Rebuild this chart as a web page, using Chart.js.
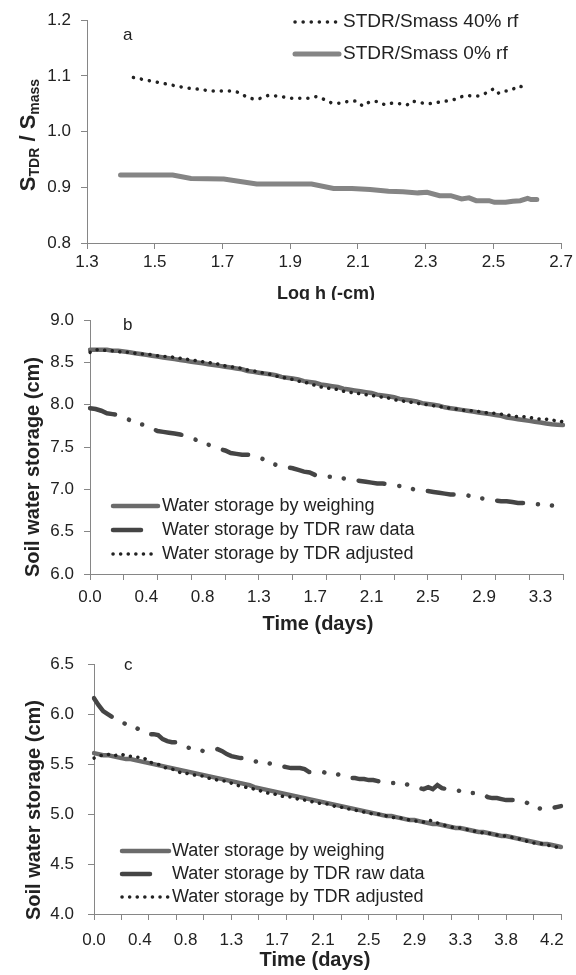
<!DOCTYPE html>
<html>
<head>
<meta charset="utf-8">
<script src="https://cdn.jsdelivr.net/npm/chart.js@4.4.1/dist/chart.umd.min.js"></script>
<style>
  body { margin: 0; background: #fff; }
  .panel { position: absolute; left: 0; width: 576px; }
</style>
</head>
<body>
<div class="panel" style="top:0;height:300px"><canvas id="chart-a" width="576" height="300"></canvas></div>
<div class="panel" style="top:300px;height:340px"><canvas id="chart-b" width="576" height="340"></canvas></div>
<div class="panel" style="top:640px;height:335px"><canvas id="chart-c" width="576" height="335"></canvas></div>
<script>
// ---- panel a : S_TDR / S_mass vs log h ----
const a_x_40 = [1.437, 1.462, 1.487, 1.513, 1.538, 1.563, 1.587, 1.613, 1.636, 1.66, 1.683, 1.707, 1.728, 1.75, 1.766, 1.793, 1.815, 1.835, 1.859, 1.88, 1.904, 1.93, 1.954, 1.978, 2.0, 2.02, 2.046, 2.07, 2.094, 2.114, 2.136, 2.158, 2.18, 2.2, 2.226, 2.245, 2.26, 2.283, 2.305, 2.326, 2.346, 2.365, 2.386, 2.402, 2.419, 2.435, 2.454, 2.47, 2.484, 2.498, 2.511, 2.527, 2.543, 2.56, 2.574, 2.587];
const a_y_40 = [1.097, 1.094, 1.091, 1.088, 1.085, 1.082, 1.079, 1.077, 1.076, 1.073, 1.073, 1.073, 1.073, 1.07, 1.064, 1.058, 1.06, 1.065, 1.064, 1.062, 1.06, 1.06, 1.06, 1.063, 1.058, 1.052, 1.051, 1.054, 1.055, 1.046, 1.054, 1.054, 1.048, 1.051, 1.05, 1.048, 1.055, 1.052, 1.05, 1.051, 1.054, 1.055, 1.058, 1.062, 1.065, 1.064, 1.064, 1.067, 1.071, 1.076, 1.068, 1.073, 1.073, 1.077, 1.082, 1.08];
const a_x_0 = [1.399, 1.553, 1.607, 1.704, 1.801, 1.888, 1.963, 2.028, 2.082, 2.136, 2.19, 2.233, 2.277, 2.304, 2.341, 2.374, 2.406, 2.428, 2.449, 2.487, 2.503, 2.536, 2.557, 2.579, 2.601, 2.611, 2.628];
const a_y_0 = [0.922, 0.922, 0.916, 0.915, 0.906, 0.906, 0.906, 0.898, 0.898, 0.896, 0.893, 0.892, 0.89, 0.891, 0.885, 0.885, 0.879, 0.881, 0.876, 0.876, 0.873, 0.873, 0.875, 0.876, 0.88, 0.878, 0.878];
const a_x_ticks = [1.3, 1.5, 1.7, 1.9, 2.1, 2.3, 2.5, 2.7];
const a_y_ticks = [0.8, 0.9, 1.0, 1.1, 1.2];

// ---- panel b : hourly soil water storage (cm) ----
const b_weighing = [8.65, 8.65, 8.65, 8.65, 8.64, 8.64, 8.63, 8.62, 8.61, 8.60, 8.59, 8.58, 8.57, 8.56, 8.55, 8.54, 8.53, 8.52, 8.51, 8.50, 8.49, 8.48, 8.47, 8.46, 8.45, 8.44, 8.43, 8.42, 8.40, 8.39, 8.38, 8.37, 8.36, 8.35, 8.33, 8.32, 8.31, 8.30, 8.28, 8.27, 8.26, 8.24, 8.23, 8.22, 8.21, 8.19, 8.18, 8.17, 8.16, 8.15, 8.14, 8.12, 8.11, 8.10, 8.09, 8.07, 8.06, 8.05, 8.04, 8.02, 8.01, 8.00, 7.99, 7.97, 7.96, 7.95, 7.94, 7.93, 7.92, 7.91, 7.90, 7.89, 7.88, 7.87, 7.85, 7.84, 7.83, 7.82, 7.81, 7.80, 7.79, 7.78, 7.77, 7.765, 7.76];
const b_tdr_raw = [7.96, 7.95, 7.93, 7.90, 7.89, 7.88, 7.86, 7.82, 7.79, 7.77, 7.76, 7.72, 7.69, 7.68, 7.67, 7.66, 7.65, 7.63, 7.61, 7.58, 7.56, 7.53, 7.50, 7.48, 7.46, 7.43, 7.42, 7.41, 7.41, 7.40, 7.38, 7.35, 7.32, 7.29, 7.27, 7.26, 7.25, 7.23, 7.21, 7.20, 7.17, 7.16, 7.15, 7.15, 7.14, 7.13, 7.12, 7.11, 7.10, 7.09, 7.08, 7.07, 7.07, 7.06, 7.05, 7.04, 7.03, 7.01, 6.99, 6.98, 6.98, 6.97, 6.96, 6.95, 6.94, 6.94, 6.94, 6.93, 6.91, 6.90, 6.89, 6.88, 6.87, 6.86, 6.86, 6.85, 6.84, 6.84, 6.83, 6.83, 6.82, 6.82, 6.81, 6.80, 6.80];
const b_tdr_adj = [8.62, 8.65, 8.65, 8.64, 8.64, 8.63, 8.62, 8.62, 8.61, 8.60, 8.60, 8.59, 8.58, 8.57, 8.57, 8.56, 8.55, 8.54, 8.53, 8.52, 8.51, 8.50, 8.49, 8.48, 8.46, 8.45, 8.44, 8.43, 8.41, 8.40, 8.39, 8.37, 8.36, 8.34, 8.33, 8.31, 8.30, 8.28, 8.27, 8.25, 8.23, 8.21, 8.20, 8.19, 8.18, 8.16, 8.15, 8.14, 8.13, 8.12, 8.11, 8.10, 8.09, 8.08, 8.06, 8.05, 8.04, 8.03, 8.02, 8.01, 8.00, 7.99, 7.98, 7.97, 7.96, 7.95, 7.94, 7.93, 7.93, 7.92, 7.91, 7.90, 7.90, 7.89, 7.88, 7.87, 7.86, 7.86, 7.85, 7.84, 7.83, 7.83, 7.82, 7.81, 7.80];
const b_tick_labels = ['0.0', '0.4', '0.8', '1.3', '1.7', '2.1', '2.5', '2.9', '3.3'];
const b_y_ticks = [6.0, 6.5, 7.0, 7.5, 8.0, 8.5, 9.0];

// ---- panel c : hourly soil water storage (cm) ----
const c_weighing = [5.61, 5.60, 5.59, 5.59, 5.58, 5.57, 5.56, 5.55, 5.55, 5.54, 5.53, 5.52, 5.51, 5.50, 5.49, 5.48, 5.47, 5.46, 5.45, 5.44, 5.43, 5.42, 5.41, 5.40, 5.39, 5.38, 5.37, 5.36, 5.35, 5.34, 5.33, 5.32, 5.31, 5.30, 5.29, 5.27, 5.26, 5.25, 5.24, 5.23, 5.22, 5.21, 5.20, 5.19, 5.18, 5.17, 5.16, 5.15, 5.14, 5.13, 5.12, 5.11, 5.10, 5.09, 5.08, 5.07, 5.06, 5.05, 5.04, 5.03, 5.02, 5.01, 5.00, 4.99, 4.98, 4.98, 4.97, 4.96, 4.95, 4.94, 4.94, 4.93, 4.92, 4.91, 4.90, 4.90, 4.89, 4.88, 4.87, 4.86, 4.86, 4.85, 4.84, 4.83, 4.82, 4.82, 4.81, 4.80, 4.79, 4.78, 4.78, 4.77, 4.76, 4.75, 4.74, 4.73, 4.72, 4.71, 4.70, 4.70, 4.69, 4.68, 4.67];
const c_tdr_raw = [6.16, 6.09, 6.03, 6.00, 5.97, 5.93, 5.92, 5.90, 5.88, 5.87, 5.84, 5.81, 5.80, 5.80, 5.79, 5.75, 5.73, 5.72, 5.72, 5.70, 5.67, 5.66, 5.65, 5.64, 5.63, 5.63, 5.64, 5.65, 5.63, 5.60, 5.58, 5.57, 5.56, 5.56, 5.55, 5.53, 5.52, 5.52, 5.51, 5.50, 5.49, 5.48, 5.47, 5.46, 5.46, 5.46, 5.45, 5.42, 5.42, 5.42, 5.42, 5.41, 5.41, 5.40, 5.39, 5.38, 5.36, 5.36, 5.35, 5.35, 5.34, 5.34, 5.33, 5.32, 5.32, 5.31, 5.31, 5.30, 5.30, 5.29, 5.27, 5.26, 5.25, 5.27, 5.25, 5.29, 5.26, 5.25, 5.25, 5.24, 5.23, 5.22, 5.21, 5.21, 5.21, 5.20, 5.17, 5.16, 5.16, 5.15, 5.14, 5.14, 5.14, 5.14, 5.13, 5.10, 5.08, 5.06, 5.05, 5.05, 5.06, 5.07, 5.08];
const c_tdr_adj = [5.56, 5.58, 5.59, 5.60, 5.58, 5.59, 5.60, 5.58, 5.58, 5.57, 5.57, 5.56, 5.52, 5.51, 5.50, 5.47, 5.46, 5.45, 5.44, 5.41, 5.41, 5.40, 5.39, 5.38, 5.38, 5.36, 5.35, 5.34, 5.33, 5.33, 5.31, 5.29, 5.28, 5.27, 5.26, 5.25, 5.24, 5.22, 5.21, 5.21, 5.19, 5.18, 5.17, 5.17, 5.16, 5.14, 5.14, 5.13, 5.12, 5.11, 5.10, 5.10, 5.09, 5.07, 5.07, 5.05, 5.05, 5.04, 5.03, 5.02, 5.01, 5.00, 5.00, 4.99, 4.98, 4.97, 4.96, 4.96, 4.95, 4.94, 4.93, 4.93, 4.92, 4.94, 4.93, 4.91, 4.90, 4.88, 4.87, 4.86, 4.86, 4.85, 4.84, 4.83, 4.82, 4.81, 4.81, 4.80, 4.79, 4.78, 4.78, 4.77, 4.76, 4.75, 4.74, 4.72, 4.71, 4.71, 4.70, 4.69, 4.68, 4.67, 4.66];
const c_tick_labels = ['0.0', '0.4', '0.8', '1.3', '1.7', '2.1', '2.5', '2.9', '3.3', '3.8', '4.2'];
const c_y_ticks = [4.0, 4.5, 5.0, 5.5, 6.0, 6.5];

const MARK_STEP_H = 6;    // tick mark every 6 hours
const LABEL_STEP_H = 10;  // label every 10 hours

const FONT = "'Liberation Sans', Arial, sans-serif";
const AXIS = '#868686';
const TEXT = '#222222';

// letters, legends and axis titles drawn inside the canvas
const panelDeco = {
    id: 'panelDeco',
    afterDraw(chart, args, o) {
        const ctx = chart.ctx;
        ctx.save();
        ctx.fillStyle = TEXT;
        ctx.textAlign = 'left';
        ctx.textBaseline = 'middle';
        ctx.font = '17px ' + FONT;
        ctx.fillText(o.letter[0], o.letter[1], o.letter[2]);

        ctx.font = o.legendSize + 'px ' + FONT;
        chart.data.datasets.forEach((ds, i) => {
            let y = o.legendY[i];
            ctx.save();
            ctx.strokeStyle = ds.borderColor;
            ctx.lineWidth = ds.borderWidth;
            ctx.lineCap = ds.borderCapStyle || 'butt';
            ctx.setLineDash(ds.legendDash || ds.borderDash || []);
            ctx.beginPath();
            ctx.moveTo(o.legendX[0], y);
            ctx.lineTo(o.legendX[1], y);
            ctx.stroke();
            ctx.restore();
            ctx.fillText(ds.label, o.legendX[2], y);
        });

        // x title
        ctx.font = 'bold ' + o.xTitle[3] + 'px ' + FONT;
        ctx.textAlign = 'center';
        ctx.fillText(o.xTitle[0], o.xTitle[1], o.xTitle[2]);

        // y title (rotated, runs allow subscripts)
        ctx.translate(o.yTitle.x, o.yTitle.y);
        ctx.rotate(-Math.PI / 2);
        ctx.textAlign = 'left';
        ctx.textBaseline = 'alphabetic';
        let total = 0;
        o.yTitle.runs.forEach(r => {
            ctx.font = 'bold ' + r[1] + 'px ' + FONT;
            total += ctx.measureText(r[0]).width;
        });
        let x = -total / 2;
        o.yTitle.runs.forEach(r => {
            ctx.font = 'bold ' + r[1] + 'px ' + FONT;
            ctx.fillText(r[0], x, o.yTitle.base + r[2]);
            x += ctx.measureText(r[0]).width;
        });
        ctx.restore();
    }
};

function tickFont() {
    return { family: FONT, size: 17 };
}

function valueAxis(ticks, width, pad) {
    return {
        min: ticks[0],
        max: ticks[ticks.length - 1],
        afterBuildTicks: s => { s.ticks = ticks.map(v => ({ value: v })); },
        afterFit: s => { s.width = width; },
        grid: { drawOnChartArea: false, tickLength: 6, tickColor: AXIS },
        border: { color: AXIS, width: 1 },
        ticks: { font: tickFont(), color: TEXT, padding: pad, callback: v => v.toFixed(1) }
    };
}

function timeAxis(labels, height, pad) {
    return {
        type: 'category',
        offset: false,
        afterFit: s => { s.height = height; },
        grid: {
            drawOnChartArea: false, offset: false, tickLength: 6,
            tickColor: c => (c.index % MARK_STEP_H === 0 ? AXIS : 'rgba(0,0,0,0)')
        },
        border: { color: AXIS, width: 1 },
        ticks: {
            autoSkip: false, maxRotation: 0, minRotation: 0, padding: pad,
            font: tickFont(), color: TEXT,
            callback: (v, i) => (i % LABEL_STEP_H === 0 ? labels[i / LABEL_STEP_H] : '')
        }
    };
}

function storageChart(id, hours, weighing, raw, adj, labels, yTicks, box, deco) {
    return new Chart(document.getElementById(id), {
        type: 'line',
        data: {
            labels: hours,
            datasets: [
                { label: 'Water storage by weighing', data: weighing, borderColor: '#6b6b6b', borderWidth: 4.5, borderCapStyle: 'round', pointRadius: 0, tension: 0, order: 1 },
                { label: 'Water storage by TDR raw data', data: raw, borderColor: '#454545', borderWidth: 4.5, borderCapStyle: 'round', borderDash: [26, 15, 0.1, 14, 0.1, 15], legendDash: [28, 40], pointRadius: 0, tension: 0, order: 2 },
                { label: 'Water storage by TDR adjusted', data: adj, borderColor: '#222222', borderWidth: 3.5, borderCapStyle: 'round', borderDash: [0.1, 7.5], pointRadius: 0, tension: 0, order: 0 }
            ]
        },
        options: {
            responsive: false,
            animation: false,
            layout: { padding: { left: 0, right: box.right, top: box.top, bottom: 0 } },
            plugins: { legend: { display: false }, tooltip: { enabled: false }, panelDeco: deco },
            scales: {
                x: timeAxis(labels, box.xh, box.xpad),
                y: valueAxis(yTicks, box.yw, box.ypad)
            }
        },
        plugins: [panelDeco]
    });
}

// panel a
new Chart(document.getElementById('chart-a'), {
    type: 'line',
    data: {
        datasets: [
            { label: 'STDR/Smass 40% rf', data: a_x_40.map((x, i) => ({ x: x, y: a_y_40[i] })), borderColor: '#222222', borderWidth: 3.5, borderCapStyle: 'round', borderDash: [0.1, 8], pointRadius: 0, tension: 0 },
            { label: 'STDR/Smass 0% rf', data: a_x_0.map((x, i) => ({ x: x, y: a_y_0[i] })), borderColor: '#858585', borderWidth: 5, borderCapStyle: 'round', pointRadius: 0, tension: 0 }
        ]
    },
    options: {
        responsive: false,
        animation: false,
        layout: { padding: { left: 0, right: 13, top: 17, bottom: 0 } },
        plugins: {
            legend: { display: false },
            tooltip: { enabled: false },
            panelDeco: {
                letter: ['a', 123, 35],
                legendSize: 19,
                legendX: [295, 339, 343],
                legendY: [22, 54],
                xTitle: ['Log h (-cm)', 326, 294, 18],
                yTitle: { x: 27, y: 135, base: 8, runs: [['S', 22, 0], ['TDR', 14, 4], [' / S', 22, 0], ['mass', 14, 4]] }
            }
        },
        scales: {
            x: {
                type: 'linear',
                min: a_x_ticks[0],
                max: a_x_ticks[a_x_ticks.length - 1],
                afterBuildTicks: s => { s.ticks = a_x_ticks.map(v => ({ value: v })); },
                afterFit: s => { s.height = 57; },
                grid: { drawOnChartArea: false, tickLength: 6, tickColor: AXIS },
                border: { color: AXIS, width: 1 },
                ticks: { font: tickFont(), color: TEXT, padding: 3, maxRotation: 0, callback: v => v.toFixed(1) }
            },
            y: valueAxis(a_y_ticks, 87, 10)
        }
    },
    plugins: [panelDeco]
});

// panel b
storageChart('chart-b', b_weighing.map((v, i) => i), b_weighing, b_tdr_raw, b_tdr_adj, b_tick_labels, b_y_ticks,
    { right: 13, top: 19, xh: 66, xpad: 7, yw: 90, ypad: 10 },
    {
        letter: ['b', 123, 25],
        legendSize: 18,
        legendX: [113, 158, 162],
        legendY: [206, 230, 254],
        xTitle: ['Time (days)', 318, 324, 20],
        yTitle: { x: 32, y: 167, base: 7, runs: [['Soil water storage (cm)', 20, 0]] }
    });

// panel c
storageChart('chart-c', c_weighing.map((v, i) => i), c_weighing, c_tdr_raw, c_tdr_adj, c_tick_labels, c_y_ticks,
    { right: 15, top: 15, xh: 61, xpad: 10, yw: 94, ypad: 14 },
    {
        letter: ['c', 124, 25],
        legendSize: 18,
        legendX: [122, 169, 172],
        legendY: [211, 234, 257],
        xTitle: ['Time (days)', 315, 320, 20],
        yTitle: { x: 33, y: 170, base: 7, runs: [['Soil water storage (cm)', 20, 0]] }
    });
</script>
</body>
</html>
